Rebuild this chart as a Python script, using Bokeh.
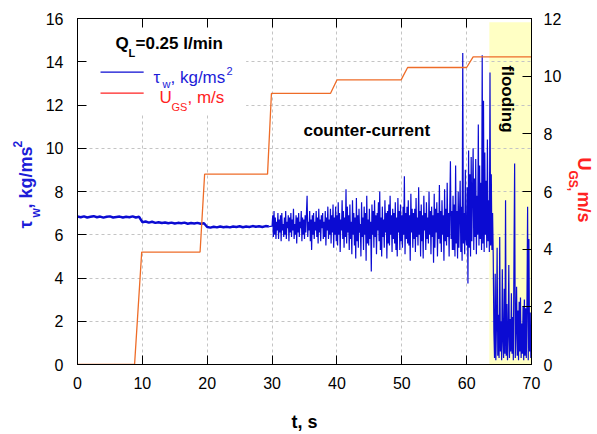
import numpy as np
from bokeh.plotting import figure
from bokeh.layouts import row
from bokeh.models import Range1d, LinearAxis, FixedTicker, BoxAnnotation, Label
from bokeh.embed import file_html
from bokeh.resources import INLINE

# ---------------- data ----------------
t_ticks = [0, 10, 20, 30, 40, 50, 60, 70]
tau_ticks = [0, 2, 4, 6, 8, 10, 12, 14, 16]
u_ticks = [0, 2, 4, 6, 8, 10, 12]

# wall shear stress tau_w, kg/ms^2 ; t = 0 .. 29.5 s every 0.5 s
tau_steady = [6.84, 6.81, 6.85, 6.80, 6.83, 6.86, 6.81, 6.84, 6.79, 6.83,
              6.85, 6.80, 6.82, 6.84, 6.80, 6.83, 6.81, 6.85, 6.80, 6.83,
              6.58, 6.61, 6.56, 6.60, 6.55, 6.58, 6.54, 6.57, 6.53, 6.56,
              6.52, 6.55, 6.53, 6.56, 6.51, 6.54, 6.52, 6.55, 6.51, 6.53,
              6.36, 6.33, 6.37, 6.34, 6.38, 6.35, 6.37, 6.34, 6.38, 6.36,
              6.39, 6.35, 6.38, 6.36, 6.40, 6.37, 6.39, 6.36, 6.40, 6.38]
# t = 30 .. 57.9 s every 0.1 s
tau_counter = [6.4, 6.9, 5.9, 7.1, 6.0, 6.8, 5.8, 6.6, 6.2, 7.0,
               5.8, 6.7, 6.1, 6.9, 5.7, 7.0, 6.2, 6.5, 5.9, 6.8,
               6.0, 7.1, 5.8, 6.6, 6.3, 6.9, 5.7, 6.8, 6.1, 7.0,
               5.9, 6.7, 6.2, 7.2, 5.8, 6.5, 6.0, 6.9, 5.6, 6.8,
               6.1, 7.0, 5.9, 6.6, 6.3, 7.1, 5.7, 6.8, 6.0, 6.7,
               5.8, 6.9, 6.1, 7.0, 7.8, 5.9, 6.6, 6.2, 7.1, 5.7,
               6.7, 5.3, 6.9, 6.0, 7.0, 5.8, 6.6, 6.2, 7.1, 5.9,
               6.8, 5.6, 7.2, 6.1, 6.7, 5.7, 6.9, 6.3, 7.0, 5.8,
               6.6, 5.9, 7.1, 5.5, 6.8, 6.2, 7.3, 5.8, 6.7, 6.0,
               7.2, 5.6, 6.9, 6.1, 7.4, 5.4, 6.8, 6.0, 7.3, 5.7,
               6.9, 5.5, 7.5, 6.0, 7.0, 5.2, 6.7, 6.2, 7.6, 5.8,
               7.1, 5.4, 6.8, 5.9, 8.1, 5.6, 7.3, 6.1, 6.9, 5.3,
               7.4, 5.8, 6.6, 5.1, 7.6, 6.0, 7.0, 5.5, 6.8, 4.9,
               7.7, 5.7, 6.9, 5.4, 7.2, 6.1, 6.5, 5.0, 7.5, 5.9,
               6.8, 5.3, 7.3, 6.0, 7.0, 4.8, 7.8, 5.6, 6.7, 5.5,
               7.2, 5.8, 6.6, 4.3, 7.4, 6.0, 7.1, 5.4, 7.6, 5.9,
               6.9, 5.1, 7.0, 6.2, 7.5, 5.7, 8.0, 5.3, 6.8, 5.0,
               7.3, 5.9, 6.7, 5.4, 7.6, 6.1, 7.0, 4.9, 7.1, 5.6,
               7.4, 5.5, 7.8, 6.0, 6.9, 5.2, 7.2, 5.8, 7.0, 5.6,
               7.5, 5.3, 6.8, 5.0, 7.7, 6.1, 7.1, 5.3, 7.4, 5.7,
               6.9, 5.4, 7.3, 6.0, 8.7, 5.1, 7.0, 5.8, 7.3, 5.6,
               7.6, 5.5, 6.9, 4.8, 7.9, 6.1, 7.2, 5.4, 7.0, 5.8,
               7.2, 5.2, 7.7, 5.9, 6.8, 5.5, 8.2, 6.0, 7.1, 5.0,
               7.4, 5.7, 6.9, 4.9, 7.8, 6.2, 7.0, 5.3, 7.5, 5.8,
               6.8, 5.6, 8.0, 6.0, 7.1, 5.1, 7.3, 5.9, 6.9, 4.7,
               7.9, 5.4, 7.2, 6.1, 7.5, 5.0, 7.0, 5.8, 8.3, 5.6,
               7.1, 5.2, 7.6, 6.0, 6.9, 4.8, 8.1, 5.7, 7.2, 5.5,
               8.4, 5.9, 7.0, 5.0, 7.3, 9.4, 5.8, 7.1, 5.3, 7.8]
# t = 58 .. 70 s every 0.1 s
tau_flood = [5.3, 7.4, 5.0, 9.2, 5.6, 7.1, 4.9, 8.0, 5.4, 6.9,
             8.5, 5.2, 7.3, 4.8, 14.4, 5.6, 7.0, 5.1, 9.0, 5.8,
             5.5, 8.2, 3.75, 9.9, 5.4, 8.8, 5.0, 9.6, 5.7, 7.9,
             10.0, 5.3, 8.6, 5.9, 9.5, 5.1, 7.8, 6.0, 11.1, 5.5,
             9.2, 5.8, 8.4, 5.3, 14.3, 5.6, 12.2, 5.2, 9.8, 6.0,
             8.5, 5.4, 10.4, 5.7, 7.6, 5.2, 13.5, 5.5, 8.8, 5.3,
             7.0, 5.0, 1.5, 0.3, 4.2, 0.2, 1.8, 5.4, 0.4, 2.3,
             0.3, 5.9, 0.6, 2.0, 0.2, 4.4, 1.1, 0.3, 3.5, 0.5,
             7.6, 0.4, 2.8, 0.2, 1.4, 4.6, 0.3, 2.1, 0.6, 3.3,
             0.5, 2.2, 0.2, 5.0, 9.3, 0.3, 1.7, 3.6, 0.4, 2.5,
             0.2, 2.9, 0.6, 3.1, 0.3, 1.9, 0.5, 2.7, 0.2, 3.0,
             0.4, 2.6, 0.3, 2.8, 7.3, 0.2, 5.8, 0.6, 2.4, 0.3,
             1.6]

# superficial gas velocity U_GS, m/s (right axis)
t_ugs = [0, 8.8, 9.9, 18.9, 19.6, 29.3, 29.9, 39.0, 40.0, 49.9, 50.9, 60.0, 61.0, 70]
u_gs = [0, 0, 3.9, 3.9, 6.6, 6.6, 9.4, 9.4, 9.87, 9.87, 10.3, 10.3, 10.67, 10.67]

flood_start, flood_end, flood_top = 63.5, 70, 15.83

t_steady = np.arange(len(tau_steady)) * 0.5
t_counter = 30 + np.arange(len(tau_counter)) * 0.1
t_flood = 58 + np.arange(len(tau_flood)) * 0.1

# ---------------- style ----------------
FONT = "Liberation Sans"
BLUE = "#0B0BD2"
BLUE_TXT = "#1C1CD8"
RED = "#FF2222"
ORANGE = "#EE6C28"
GRID = "#C4C4C4"

W, H = 597, 434
LW, RW = 42, 31              # side strips for the axis titles
FL, FR, FT, FB = 77, 531, 18, 364  # frame edges in page px

p = figure(width=W - LW - RW, height=H, x_range=Range1d(0, 70), y_range=Range1d(0, 16),
           output_backend="svg", toolbar_location=None,
           min_border_left=FL - LW, min_border_right=(W - RW) - FR, min_border_top=FT,
           min_border_bottom=H - FB)
p.extra_y_ranges = {"u": Range1d(0, 12)}
p.background_fill_color = "white"
p.border_fill_color = "white"
p.outline_line_color = "black"

def style_axis(ax, ticks, standoff):
    ax.ticker = FixedTicker(ticks=ticks)
    ax.major_tick_in = 9
    ax.major_tick_out = 0
    ax.minor_tick_in = 0
    ax.minor_tick_out = 0
    ax.axis_line_color = "black"
    ax.major_tick_line_color = "black"
    ax.major_label_text_font = FONT
    ax.major_label_text_font_size = "16px"
    ax.major_label_text_color = "black"
    ax.major_label_standoff = standoff

style_axis(p.xaxis[0], t_ticks, 12)
style_axis(p.yaxis[0], tau_ticks, 14)
p.xaxis.axis_label = "t, s"
p.xaxis.axis_label_text_font = FONT
p.xaxis.axis_label_text_font_size = "18px"
p.xaxis.axis_label_text_font_style = "bold"
p.xaxis.axis_label_text_color = "black"
p.xaxis.axis_label_standoff = 20

ax_r = LinearAxis(y_range_name="u")
style_axis(ax_r, u_ticks, 12)
p.add_layout(ax_r, "right")

ax_t = LinearAxis()
style_axis(ax_t, t_ticks, 0)
ax_t.major_label_text_font_size = "1px"
ax_t.major_label_text_color = None
p.add_layout(ax_t, "above")

p.xgrid.ticker = FixedTicker(ticks=t_ticks[1:-1])
p.ygrid.ticker = FixedTicker(ticks=tau_ticks[1:-1])
for g in (p.xgrid[0], p.ygrid[0]):
    g.grid_line_color = GRID
    g.grid_line_dash = "3 3"
    g.grid_line_width = 1

# flooding region (below grid) and white legend area
p.add_layout(BoxAnnotation(left=flood_start, right=flood_end, bottom=0, top=flood_top,
                           fill_color="#FFFFC4", fill_alpha=1, line_color=None, level="image"))
p.add_layout(BoxAnnotation(left=0, right=26, bottom=11.6, top=16,
                           fill_color="white", fill_alpha=1, line_color=None, level="glyph"))

# data
p.line(t_steady, tau_steady, color=BLUE, line_width=2.5)
t_noisy = np.concatenate([t_steady[-1:], t_counter, t_flood])
tau_noisy = np.concatenate([tau_steady[-1:], tau_counter, tau_flood])
p.line(t_noisy, tau_noisy, color=BLUE, line_width=1.2)
p.line(t_ugs, u_gs, y_range_name="u", color=ORANGE, line_width=1.3)

# legend lines
r1 = p.line([3.55, 10.2], [13.52, 13.52], color=BLUE, line_width=1.2)
r2 = p.line([3.55, 10.2], [12.55, 12.55], color=RED, line_width=1.2)
r1.level = "annotation"
r2.level = "annotation"

def lab(fig, text, x, y, size, color="black", bold=True, angle=0.0):
    fig.add_layout(Label(x=x, y=y, x_units="screen", y_units="screen", text=text,
                         text_font=FONT, text_font_size=f"{size}px",
                         text_font_style="bold" if bold else "normal",
                         text_color=color, angle=angle, text_align="left",
                         text_baseline="alphabetic"))

def mlab(text, X, Y, size, color="black", bold=True, angle=0.0):
    # page px -> frame-relative screen units (frames of all three figures share top/bottom)
    lab(p, text, X - FL, FB - Y, size, color, bold, angle)

# legend title and entries
mlab("Q", 115, 43, 17)
mlab("L", 128, 52, 11)
mlab("=0.25 l/min", 135, 43, 17)
mlab("\u03c4", 153, 77, 17, BLUE_TXT, bold=False)
mlab("w", 162, 83, 11, BLUE_TXT, bold=False)
mlab(", kg/ms", 170, 77, 17, BLUE_TXT, bold=False)
mlab("2", 226, 70, 11, BLUE_TXT, bold=False)
mlab("U", 159, 97, 17, RED, bold=False)
mlab("GS", 171, 106, 11, RED, bold=False)
mlab(", m/s", 187, 97, 17, RED, bold=False)

mlab("counter-current", 303, 130, 17)
mlab("flooding", 507, 65, 17, angle=-np.pi / 2)

# side strips holding the rotated axis titles
def strip(width):
    f = figure(width=width, height=H, x_range=Range1d(0, width), y_range=Range1d(0, 1),
               x_axis_type=None, y_axis_type=None, output_backend="svg",
               toolbar_location=None, min_border=0)
    f.outline_line_color = None
    f.background_fill_color = "white"
    f.border_fill_color = "white"
    return f

left = strip(LW)
right = strip(RW)

def llab(text, X, Y, size, color, angle):
    lab(left, text, X, FB - Y, size, color, True, angle)

def rlab(text, X, Y, size, color, angle):
    lab(right, text, X - (W - RW), FB - Y, size, color, True, angle)

up, down = np.pi / 2, -np.pi / 2
llab("\u03c4", 25, 228, 18, BLUE_TXT, up)
llab("w", 35, 217, 12, BLUE_TXT, up)
llab(", kg/ms", 25, 208, 18, BLUE_TXT, up)
llab("2", 17, 147, 12, BLUE_TXT, up)
rlab("U", 583, 157, 18, RED, down)
rlab("GS,", 572, 170, 12, RED, down)
rlab(" m/s", 583, 191, 18, RED, down)

layout = row(left, p, right, spacing=0)
open("out.html", "w").write(file_html(layout, INLINE))
